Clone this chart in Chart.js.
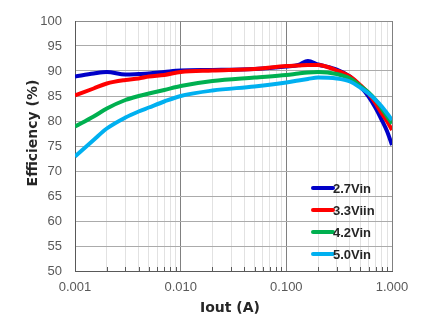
<!DOCTYPE html>
<html>
<head>
<meta charset="utf-8">
<script src="https://cdn.jsdelivr.net/npm/chart.js@4"></script>
<style>
  html, body { margin: 0; padding: 0; background: #fff; }
  #wrap { width: 434px; height: 335px; }
</style>
</head>
<body>
<div id="wrap"><canvas id="ChartEff"></canvas></div>
<script>
// output current (A)
const iout = [0.001, 0.0015, 0.002, 0.003, 0.004, 0.005, 0.007, 0.01, 0.02, 0.05, 0.1, 0.13, 0.16, 0.2, 0.3, 0.4, 0.5, 0.6, 0.7, 0.8, 0.9, 1.0];

// efficiency (%) per input voltage
const eff27 = [88.9, 89.5, 89.8, 89.3, 89.4, 89.5, 89.8, 90.1, 90.2, 90.4, 90.9, 91.2, 92.0, 91.3, 90.3, 88.9, 86.9, 84.9, 82.6, 80.2, 77.9, 75.2];
const eff33 = [85.1, 86.5, 87.5, 88.2, 88.5, 88.9, 89.2, 89.8, 90.1, 90.4, 91.0, 91.1, 91.2, 91.2, 90.1, 88.9, 87.2, 85.5, 83.5, 81.5, 79.9, 78.2];
const eff42 = [78.9, 80.9, 82.5, 84.2, 85.0, 85.5, 86.2, 87.0, 88.0, 88.7, 89.2, 89.5, 89.7, 89.8, 89.4, 88.5, 87.0, 85.7, 84.2, 82.5, 80.9, 79.5];
const eff50 = [72.9, 76.2, 78.5, 80.7, 81.9, 82.7, 83.9, 85.0, 86.1, 86.9, 87.7, 88.1, 88.4, 88.7, 88.5, 87.9, 86.7, 85.5, 84.2, 82.9, 81.5, 80.2];

const seriesNames = ['2.7Vin', '3.3Viin', '4.2Vin', '5.0Vin'];
const colors = ['#0000c8', '#ff0000', '#00b050', '#00b0f0'];

const yTicks = [50, 55, 60, 65, 70, 75, 80, 85, 90, 95, 100];
const xDecades = [0.001, 0.01, 0.1, 1];

// minor positions 1..9 inside each decade
const xTickValues = [];
for (let d = 0; d < xDecades.length - 1; d++) {
    for (let k = 1; k < 10; k++) {
        xTickValues.push(+(xDecades[d] * k).toPrecision(6));
    }
}
xTickValues.push(xDecades[xDecades.length - 1]);

function isDecade(v) {
    const l = Math.log10(v);
    return Math.abs(l - Math.round(l)) < 1e-9;
}

function points(vals) {
    return iout.map((x, i) => ({ x: x, y: vals[i] }));
}

const extras = {
    id: 'extras',
    beforeDatasetsDraw(chart) {
        const ctx = chart.ctx;
        const xs = chart.scales.x;
        const area = chart.chartArea;
        ctx.save();
        ctx.strokeStyle = '#595959';
        ctx.lineWidth = 1;
        xTickValues.forEach(v => {
            if (isDecade(v)) return;
            const px = Math.round(xs.getPixelForValue(v)) + 0.5;
            ctx.beginPath();
            ctx.moveTo(px, area.bottom);
            ctx.lineTo(px, area.bottom - 4);
            ctx.stroke();
        });
        ctx.restore();
    },
    afterDraw(chart) {
        const ctx = chart.ctx;
        ctx.save();
        // axis titles
        ctx.fillStyle = '#262626';
        ctx.font = 'bold 14px "DejaVu Sans"';
        ctx.textAlign = 'center';
        ctx.textBaseline = 'middle';
        ctx.fillText('Iout (A)', 230, 308);
        ctx.translate(33, 133);
        ctx.rotate(-Math.PI / 2);
        ctx.fillText('Efficiency (%)', 0, 0);
        ctx.restore();

        // legend inside the plot
        ctx.save();
        ctx.font = 'bold 13px "Liberation Sans"';
        ctx.textAlign = 'left';
        ctx.textBaseline = 'middle';
        chart.data.datasets.forEach((ds, i) => {
            const y = 188 + i * 22;
            ctx.strokeStyle = ds.borderColor;
            ctx.lineWidth = 4;
            ctx.lineCap = 'round';
            ctx.beginPath();
            ctx.moveTo(313, y);
            ctx.lineTo(333, y);
            ctx.stroke();
            ctx.fillStyle = '#262626';
            ctx.fillText(ds.label, 333, y + 1);
        });
        ctx.restore();
    }
};

const effData = [eff27, eff33, eff42, eff50];

new Chart(document.getElementById('ChartEff'), {
    type: 'line',
    data: {
        datasets: effData.map((vals, i) => ({
            label: seriesNames[i],
            data: points(vals),
            borderColor: colors[i],
            backgroundColor: colors[i],
            borderWidth: 4,
            pointRadius: 0,
            cubicInterpolationMode: 'monotone',
            fill: false,
            order: effData.length - i
        }))
    },
    options: {
        responsive: true,
        maintainAspectRatio: false,
        animation: false,
        layout: { padding: { top: 21, right: 42, left: 0, bottom: 0 } },
        plugins: {
            legend: { display: false },
            tooltip: { enabled: false }
        },
        scales: {
            x: {
                type: 'logarithmic',
                min: 0.001,
                max: 1,
                afterBuildTicks: scale => {
                    scale.ticks = xTickValues.map(v => ({ value: v, major: isDecade(v) }));
                },
                afterFit: scale => { scale.height = 64; },
                ticks: {
                    autoSkip: false,
                    maxRotation: 0,
                    padding: 9,
                    color: '#595959',
                    font: { family: 'Liberation Sans', size: 13 },
                    callback: v => isDecade(v) ? v.toFixed(3) : ''
                },
                grid: {
                    drawTicks: false,
                    color: c => (c.tick && isDecade(c.tick.value)) ? '#808080' : '#e2e2e2',
                    lineWidth: 1
                },
                border: { color: '#595959', width: 1 }
            },
            y: {
                min: 50,
                max: 100,
                afterBuildTicks: scale => {
                    scale.ticks = yTicks.map(v => ({ value: v }));
                },
                afterFit: scale => { scale.width = 75; },
                ticks: {
                    padding: 13,
                    color: '#595959',
                    font: { family: 'Liberation Sans', size: 13 }
                },
                grid: {
                    drawTicks: false,
                    color: c => (c.tick && c.tick.value === 100) ? '#8c8c8c' : '#ababab',
                    lineWidth: 1
                },
                border: { color: '#595959', width: 1 }
            }
        }
    },
    plugins: [extras]
});
</script>
</body>
</html>
